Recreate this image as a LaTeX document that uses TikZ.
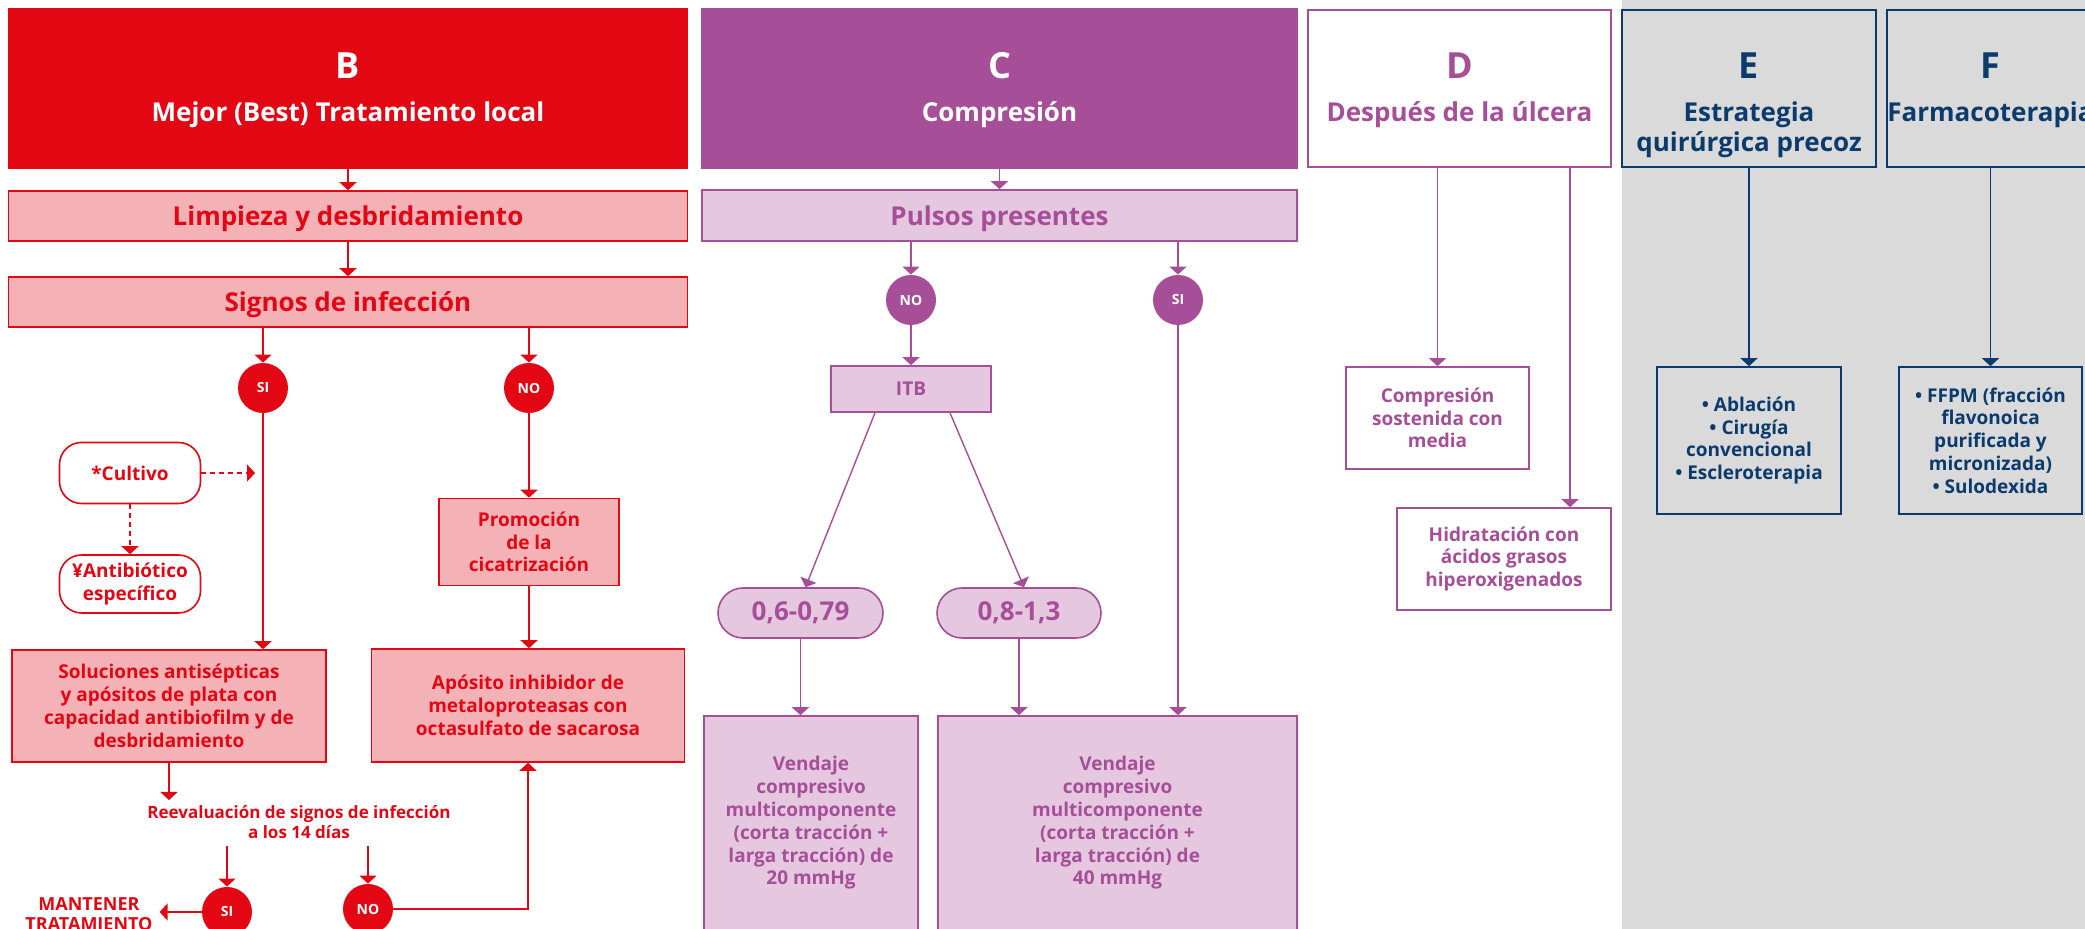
\documentclass[tikz,border=0pt]{standalone}
\usepackage{fontspec}
\setmainfont{Open Sans}
\usepackage{xcolor}
\usetikzlibrary{positioning,calc,arrows.meta}
\definecolor{rojo}{HTML}{E30613}
\definecolor{rosa}{HTML}{F4B2B7}
\definecolor{morado}{HTML}{A64E97}
\definecolor{lila}{HTML}{E5C8E0}
\definecolor{marino}{HTML}{0B3B6C}
\definecolor{gris}{HTML}{DADADA}

\begin{document}
\begin{tikzpicture}[x=0.5pt,y=-0.5pt,font=\bfseries,
    arr/.style={-{Triangle[width=8.5pt,length=4pt]},line width=0.7pt},
    darr/.style={arr,dash pattern=on 2.5pt off 2pt},
    head/.style={draw,line width=1pt,inner sep=0pt},
    box/.style={draw,line width=0.8pt,align=center,inner sep=0pt},
    circ/.style={circle,minimum size=25pt,inner sep=0pt,text=white,font=\fontsize{7}{8}\selectfont\bfseries},
    big/.style={font=\fontsize{18}{22}\selectfont\bfseries},
    sub/.style={font=\fontsize{13}{15}\selectfont\bfseries},
    txt/.style={font=\fontsize{9.5}{11.4}\selectfont\bfseries}]
    \useasboundingbox (0,0) rectangle (2085,929);
    \clip (0,0) rectangle (2085,929);
    \fill[gris] (1622,0) rectangle (2100,929);

    % B
    \node[head,draw=rojo,fill=rojo,minimum width=339pt,minimum height=79.5pt] (bhead) at (348,88.5) {};
    \node[big,text=white] (bletra) at (348,66) {B};
    \node[sub,text=white,anchor=base] (btit) at (348,122) {Mejor (Best) Tratamiento local};
    \node[box,draw=rojo,fill=rosa,text=rojo,sub,text depth=0pt,minimum width=339.5pt,minimum height=25pt] (limp) at (348,216) {Limpieza y desbridamiento};
    \node[box,draw=rojo,fill=rosa,text=rojo,sub,text depth=0pt,minimum width=339.5pt,minimum height=25pt] (signos) at (348,302) {Signos de infección};
    \node[circ,fill=rojo] (si1) at (263,388) {SI};
    \node[circ,fill=rojo] (no1) at (529,388) {NO};
    \node[box,rounded corners=11pt,draw=rojo,fill=white,text=rojo,txt,minimum width=70.5pt,minimum height=30.5pt] (cultivo) at (130,473) {*Cultivo};
    \node[box,rounded corners=11pt,draw=rojo,fill=white,text=rojo,txt,minimum width=70.5pt,minimum height=29pt] (antib) at (130,584) {¥Antibiótico\\específico};
    \node[box,draw=rojo,fill=rosa,text=rojo,txt,minimum width=90pt,minimum height=43.5pt] (promo) at (529,542) {Promoción\\de la\\cicatrización};
    \node[box,draw=rojo,fill=rosa,text=rojo,txt,minimum width=157pt,minimum height=56pt] (soluc) at (169,706) {Soluciones antisépticas\\y apósitos de plata con\\capacidad antibiofilm y de\\desbridamiento};
    \node[box,draw=rojo,fill=rosa,text=rojo,txt,minimum width=156.5pt,minimum height=56.5pt] (aposito) at (528,705.5) {Apósito inhibidor de\\metaloproteasas con\\octasulfato de sacarosa};
    \node[text=rojo,font=\fontsize{8.5}{10.3}\selectfont\bfseries,align=center] (reeval) at (299,822) {Reevaluación de signos de infección\\a los 14 días};
    \node[circ,fill=rojo] (si2) at (227,912) {SI};
    \node[circ,fill=rojo] (no2) at (368,909) {NO};
    \node[text=rojo,font=\fontsize{9}{10}\selectfont\bfseries,align=center] (mant) at (89,914) {MANTENER\\TRATAMIENTO};
    \coordinate (rvin) at (169,800);

    \draw[arr,rojo] (bhead.south) -- (limp.north);
    \draw[arr,rojo] (limp.south) -- (signos.north);
    \draw[arr,rojo] (si1 |- signos.south) -- (si1.north);
    \draw[arr,rojo] (no1 |- signos.south) -- (no1.north);
    \draw[arr,rojo] (si1.south) -- (si1 |- soluc.north);
    \draw[arr,rojo] (no1.south) -- (promo.north);
    \draw[arr,rojo] (promo.south) -- (promo.south |- aposito.north);
    \draw[darr,rojo,shorten >=4pt] (cultivo.east) -- (cultivo.east -| si1);
    \draw[darr,rojo] (cultivo.south) -- (antib.north);
    \draw[arr,rojo] (soluc.south) -- (rvin);
    \draw[arr,rojo] (si2 |- reeval.south) -- (si2.north);
    \draw[arr,rojo] (no2 |- reeval.south) -- (no2.north);
    \draw[arr,rojo] (si2.west) -- (si2.west -| mant.east);
    \draw[arr,rojo] (no2.east) -| (aposito.south);

    % C
    \node[head,draw=morado,fill=morado,minimum width=297.5pt,minimum height=79.5pt] (chead) at (999.5,88.5) {};
    \node[big,text=white] (cletra) at (999.5,66) {C};
    \node[sub,text=white,anchor=base] (ctit) at (999.5,122) {Compresión};
    \node[box,draw=morado,fill=lila,text=morado,sub,text depth=0pt,minimum width=297.5pt,minimum height=25.5pt] (pulsos) at (999.5,215.5) {Pulsos presentes};
    \node[circ,fill=morado] (no3) at (911,300) {NO};
    \node[circ,fill=morado] (si3) at (1178,300) {SI};
    \node[box,draw=morado,fill=lila,text=morado,txt,minimum width=80pt,minimum height=23pt] (itb) at (911,389) {ITB};
    \node[box,rounded corners=12.5pt,draw=morado,fill=lila,text=morado,sub,minimum width=82.5pt,minimum height=25pt] (bajo) at (800.5,613) {0,6-0,79};
    \node[box,rounded corners=12.5pt,draw=morado,fill=lila,text=morado,sub,minimum width=82pt,minimum height=25pt] (alto) at (1019,613) {0,8-1,3};
    \node[box,draw=morado,fill=lila,text=morado,txt,minimum width=107pt,minimum height=107pt] (v20) at (811,823) {Vendaje\\compresivo\\multicomponente\\(corta tracción +\\larga tracción) de\\20 mmHg};
    \node[box,draw=morado,fill=lila,text=morado,txt,minimum width=179.5pt,minimum height=107pt] (v40) at (1117.5,823) {Vendaje\\compresivo\\multicomponente\\(corta tracción +\\larga tracción) de\\40 mmHg};

    \draw[arr,morado] (chead.south) -- (pulsos.north);
    \draw[arr,morado] (no3 |- pulsos.south) -- (no3.north);
    \draw[arr,morado] (si3 |- pulsos.south) -- (si3.north);
    \draw[arr,morado] (no3.south) -- (itb.north);
    \draw[arr,morado] ([xshift=-18pt]itb.south) -- ([xshift=2.5pt]bajo.north);
    \draw[arr,morado] ([xshift=19.5pt]itb.south) -- ([xshift=2.5pt]alto.north);
    \draw[arr,morado] (bajo.south) -- (bajo.south |- v20.north);
    \draw[arr,morado] (alto.south) -- (alto.south |- v40.north);
    \draw[arr,morado] (si3.south) -- (si3 |- v40.north);

    % D
    \node[head,draw=morado,fill=white,minimum width=151.5pt,minimum height=78.5pt] (dhead) at (1459.5,88.5) {};
    \node[big,text=morado] (dletra) at (1459.5,66) {D};
    \node[sub,text=morado,anchor=base] (dtit) at (1459.5,122) {Después de la úlcera};
    \node[box,draw=morado,fill=white,text=morado,txt,minimum width=91.5pt,minimum height=51pt] (comp) at (1437.5,418) {Compresión\\sostenida con\\media};
    \node[box,draw=morado,fill=white,text=morado,txt,minimum width=107pt,minimum height=51pt] (hidr) at (1504,559) {Hidratación con\\ácidos grasos\\hiperoxigenados};
    \coordinate (hidrin) at ([xshift=33pt]hidr.north);

    \draw[arr,morado] (comp |- dhead.south) -- (comp.north);
    \draw[arr,morado] (hidrin |- dhead.south) -- (hidrin);

    % E y F
    \node[head,draw=marino,minimum width=127pt,minimum height=78.5pt] (ehead) at (1749,88.5) {};
    \node[big,text=marino] (eletra) at (1749,66) {E};
    \node[sub,text=marino,align=center,inner sep=0pt] (etit) at (1749,130) {Estrategia\\quirúrgica precoz};
    \node[box,draw=marino,text=marino,txt,minimum width=91.75pt,minimum height=73.5pt] (ebox) at (1749,440.5) {• Ablación\\• Cirugía\\convencional\\• Escleroterapia};
    \node[head,draw=marino,minimum width=104pt,minimum height=78.5pt] (fhead) at (1990.5,88.5) {};
    \node[big,text=marino] (fletra) at (1990.5,66) {F};
    \node[sub,text=marino,anchor=base] (ftit) at (1990.5,122) {Farmacoterapia};
    \node[box,draw=marino,text=marino,txt,minimum width=91.25pt,minimum height=73.5pt] (fbox) at (1990.5,440.5) {• FFPM (fracción\\flavonoica\\purificada y\\micronizada)\\• Sulodexida};

    \draw[arr,marino] (ehead.south) -- (ebox.north);
    \draw[arr,marino] (fhead.south) -- (fbox.north);
\end{tikzpicture}
\end{document}
